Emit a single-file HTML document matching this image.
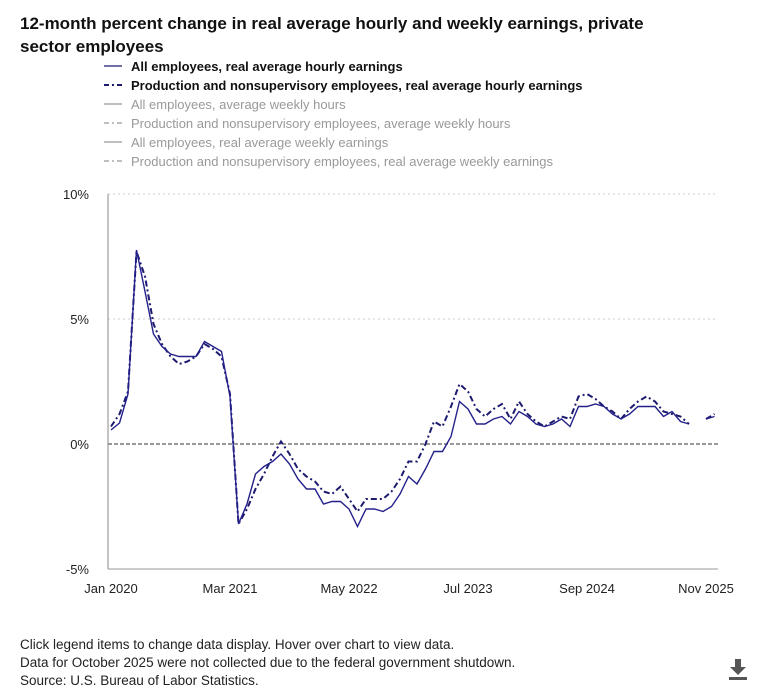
<!DOCTYPE html>
<html><head><meta charset="utf-8"><style>
body{margin:0;width:781px;height:696px;background:#fff;font-family:"Liberation Sans",sans-serif;position:relative;overflow:hidden}
.t{position:absolute;left:20px;top:12px;font-size:17px;font-weight:bold;color:#111;line-height:23px;width:650px}
.f{position:absolute;left:20px;top:636px;font-size:13.5px;color:#222;line-height:18px}
</style></head><body>
<div class="t">12-month percent change in real average hourly and weekly earnings, private sector employees</div>
<svg width="781" height="696" style="position:absolute;left:0;top:0" id="svg" font-family="Liberation Sans, sans-serif"></svg>
<div class="f">Click legend items to change data display. Hover over chart to view data.<br>Data for October 2025 were not collected due to the federal government shutdown.<br>Source: U.S. Bureau of Labor Statistics.</div>
<svg style="position:absolute;left:727px;top:657px" width="22" height="24"><path d="M8 2h6v8h5l-8 8-8-8h5z" fill="#555"/><rect x="2" y="20" width="18" height="3" fill="#555"/></svg>
<script>
const allHourly=[0.56,0.84,2.0,7.76,6.1,4.4,3.9,3.6,3.5,3.5,3.5,4.1,3.9,3.7,1.9,-3.2,-2.4,-1.2,-0.9,-0.7,-0.4,-0.8,-1.4,-1.8,-1.8,-2.4,-2.3,-2.3,-2.6,-3.3,-2.6,-2.6,-2.7,-2.5,-2.0,-1.3,-1.6,-1.0,-0.3,-0.3,0.3,1.7,1.4,0.8,0.8,1.0,1.1,0.8,1.3,1.1,0.8,0.7,0.8,1.0,0.7,1.5,1.5,1.6,1.5,1.2,1.0,1.2,1.5,1.5,1.5,1.1,1.3,0.9,0.8,null,1.0,1.1];
const prodHourly=[0.7,1.2,2.1,7.7,6.7,4.8,4.0,3.5,3.2,3.3,3.5,4.0,3.8,3.5,2.0,-3.2,-2.6,-1.8,-1.2,-0.5,0.1,-0.4,-1.0,-1.3,-1.5,-1.9,-2.0,-1.7,-2.2,-2.7,-2.2,-2.2,-2.2,-1.9,-1.4,-0.7,-0.7,0.0,0.9,0.7,1.5,2.4,2.1,1.4,1.1,1.4,1.6,1.0,1.7,1.2,0.9,0.7,0.9,1.1,1.0,1.9,2.0,1.8,1.5,1.3,1.0,1.4,1.7,1.9,1.7,1.3,1.2,1.1,0.8,null,1.0,1.2];
const yTicks=[10,5,0,-5];
const xLabels=["Jan 2020","Mar 2021","May 2022","Jul 2023","Sep 2024","Nov 2025"];
const xLabelIdx=[0,14,28,42,56,70];
const legendLabels=["All employees, real average hourly earnings","Production and nonsupervisory employees, real average hourly earnings","All employees, average weekly hours","Production and nonsupervisory employees, average weekly hours","All employees, real average weekly earnings","Production and nonsupervisory employees, real average weekly earnings"];
const NS="http://www.w3.org/2000/svg",svg=document.getElementById('svg');
const X=i=>111+8.5*i, Y=v=>444-25*v;
function el(t,a,p){const e=document.createElementNS(NS,t);for(const k in a)e.setAttribute(k,a[k]);(p||svg).appendChild(e);return e;}
yTicks.forEach(v=>{
  const g=el('line',{x1:108,x2:718,y1:Y(v),y2:Y(v),stroke:v===0?'#333':'#ccc','stroke-dasharray':v===0?'4,2':'2,3','stroke-width':1});
  
  
  const t=el('text',{x:89,y:Y(v)+5,'text-anchor':'end','font-size':13,fill:'#222'});t.textContent=v+'%';
  
  
});
const ax=el('line',{x1:108,x2:108,y1:194,y2:569,stroke:'#888'});


const bx=el('line',{x1:108,x2:718,y1:569,y2:569,stroke:'#999'});


xLabels.forEach((l,k)=>{const t=el('text',{x:X(xLabelIdx[k]),y:593,'text-anchor':'middle','font-size':13,fill:'#222'});t.textContent=l;
  
  });
function path(arr){let d='',pen=false;arr.forEach((v,i)=>{if(v===null){pen=false;return;}d+=(pen?'L':'M')+X(i)+','+Y(v);pen=true;});return d;}
const p2=el('path',{d:path(prodHourly),fill:'none',stroke:'#1c1a6e','stroke-width':2,'stroke-dasharray':'6,3,2,3'});


const p1=el('path',{d:path(allHourly),fill:'none',stroke:'#23208a','stroke-width':1.4});


legendLabels.forEach((l,k)=>{
  const y=70+19*k,c=k<2?'#1c1a6e':'#999';
  const m=el('line',{x1:104,x2:122,y1:y-4,y2:y-4,stroke:c,'stroke-width':k==1?2:1.3,'stroke-dasharray':k%2?'5,3,2,3':'none'});
  
  
  const t=el('text',{x:131,y:y+1,'font-size':13,fill:k<2?'#111':'#999','font-weight':k<2?'bold':'normal'});t.textContent=l;
  
  
});
</script>
</body></html>
